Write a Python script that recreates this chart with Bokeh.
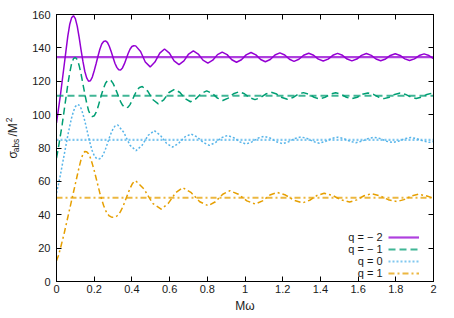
import math
from bokeh.plotting import figure
from bokeh.layouts import row
from bokeh.models import Range1d, LinearAxis, FixedTicker, Label, Legend, LegendItem
from bokeh.core.properties import value
from bokeh.embed import file_html
from bokeh.resources import INLINE

FONT = "Liberation Sans"

# ---- data ----
series_names = ["q = \u2212 2", "q = \u2212 1", "q = 0", "q = 1"]
series_colors = ["#9400d3", "#009e73", "#56b4e9", "#e69f00"]
asymptotes = [134.4, 111.3, 84.9, 50.2]

q_m2 = [(0, 95), (0.01, 103), (0.02, 111), (0.03, 120), (0.04, 129), (0.05, 138), (0.06, 147), (0.07, 154),
        (0.08, 158), (0.09, 159.3), (0.10, 157.5), (0.11, 153), (0.12, 146.5), (0.13, 139), (0.14, 132),
        (0.15, 126), (0.16, 122), (0.17, 120), (0.18, 120.3), (0.19, 122.5), (0.20, 126.3), (0.21, 130.5),
        (0.22, 135), (0.23, 139.2), (0.24, 142.3), (0.25, 143.8), (0.26, 144.2), (0.27, 143.3), (0.28, 141),
        (0.29, 137.8), (0.30, 134.2), (0.31, 130.8), (0.32, 128.3), (0.33, 126.9), (0.34, 126.8), (0.35, 128),
        (0.36, 130.4), (0.37, 133.5), (0.38, 136.6), (0.39, 139.2), (0.40, 140.8), (0.41, 141.3),
        (0.42, 141.2), (0.446, 137.8), (0.471, 131.5), (0.497, 128.6), (0.522, 131.5), (0.548, 136.85),
        (0.573, 139.3), (0.599, 136.85), (0.624, 132.2), (0.65, 130.0), (0.676, 132.2), (0.701, 136.3),
        (0.726, 138.2), (0.752, 136.3), (0.777, 132.65), (0.803, 130.9), (0.829, 132.65), (0.854, 135.95),
        (0.879, 137.5), (0.905, 135.95), (0.93, 132.9), (0.955, 131.4), (0.981, 132.9), (1.006, 135.8),
        (1.032, 137.2), (1.058, 135.8), (1.083, 133.05), (1.108, 131.7), (1.134, 133.05), (1.159, 135.7),
        (1.185, 137.0), (1.211, 135.7), (1.236, 133.15), (1.26, 131.9), (1.286, 133.15), (1.311, 135.6),
        (1.338, 136.8), (1.364, 135.6), (1.389, 133.25), (1.415, 132.1), (1.441, 133.25), (1.466, 135.55),
        (1.491, 136.7), (1.517, 135.55), (1.542, 133.3), (1.567, 132.2), (1.593, 133.3), (1.618, 135.5),
        (1.644, 136.6), (1.67, 135.5), (1.695, 133.35), (1.72, 132.3), (1.746, 133.35), (1.771, 135.45),
        (1.797, 136.5), (1.823, 135.45), (1.848, 133.4), (1.873, 132.4), (1.899, 133.4), (1.924, 135.4),
        (1.95, 136.4), (1.976, 135.4), (2.0, 133.6)]

q_m1 = [(0, 74), (0.01, 80), (0.02, 87), (0.03, 94), (0.04, 102), (0.05, 110), (0.06, 118), (0.07, 125),
        (0.08, 130.5), (0.09, 133.5), (0.10, 134.3), (0.11, 133), (0.12, 129.5), (0.13, 124.5), (0.14, 118.5),
        (0.15, 112.5), (0.16, 107), (0.17, 102.5), (0.18, 99.8), (0.19, 98.8), (0.20, 99.3), (0.21, 101.3),
        (0.22, 104.5), (0.23, 108.5), (0.24, 112.5), (0.25, 116), (0.26, 118.8), (0.27, 120.3), (0.28, 120.8),
        (0.29, 120.3), (0.30, 118.7), (0.31, 116.3), (0.32, 113.5), (0.33, 110.5), (0.34, 107.8),
        (0.35, 105.7), (0.36, 104.4), (0.37, 104.0), (0.38, 104.5), (0.39, 106), (0.40, 108.2), (0.41, 110.7),
        (0.42, 113.1), (0.43, 115), (0.44, 116.3),
        (0.455, 116.8), (0.484, 114.05), (0.512, 108.9), (0.54, 106.5), (0.569, 108.9), (0.597, 113.25),
        (0.626, 115.2), (0.655, 113.25), (0.683, 109.5), (0.711, 107.7), (0.74, 109.5), (0.768, 112.75),
        (0.797, 114.2), (0.826, 112.75), (0.854, 109.9), (0.882, 108.5), (0.911, 109.9), (0.939, 112.5),
        (0.968, 113.7), (0.997, 112.5), (1.025, 110.15), (1.053, 109.0), (1.082, 110.15), (1.11, 112.35),
        (1.139, 113.4), (1.168, 112.35), (1.196, 110.25), (1.225, 109.2), (1.254, 110.25), (1.282, 112.25),
        (1.31, 113.2), (1.339, 112.25), (1.367, 110.35), (1.395, 109.4), (1.424, 110.35), (1.452, 112.2),
        (1.481, 113.1), (1.51, 112.2), (1.538, 110.4), (1.566, 109.5), (1.595, 110.4), (1.623, 112.15),
        (1.652, 113.0), (1.681, 112.15), (1.709, 110.45), (1.737, 109.6), (1.766, 110.45), (1.794, 112.1),
        (1.823, 112.9), (1.852, 112.1), (1.88, 110.5), (1.908, 109.7), (1.937, 110.5), (1.965, 112.1),
        (1.994, 112.9), (2.0, 112.85)]

q_0 = [(0, 53), (0.01, 58), (0.02, 63.5), (0.03, 69.5), (0.04, 75.5), (0.05, 81.5), (0.06, 87.5), (0.07, 93),
       (0.08, 98), (0.09, 102), (0.10, 104.8), (0.11, 106), (0.12, 105.7), (0.13, 103.8), (0.14, 100.5),
       (0.15, 96.3), (0.16, 91.5), (0.17, 86.5), (0.18, 82), (0.19, 78.2), (0.20, 75.5), (0.21, 74),
       (0.22, 73.4), (0.23, 73.6), (0.24, 74.6), (0.25, 76.6), (0.26, 79.4), (0.27, 82.6), (0.28, 86),
       (0.29, 89), (0.30, 91.5), (0.31, 93.1),
       (0.325, 93.8), (0.357, 89.35), (0.39, 81.65), (0.422, 78.4), (0.454, 81.65), (0.487, 87.65),
       (0.519, 90.4), (0.551, 87.65), (0.584, 82.75), (0.616, 80.6), (0.648, 82.75), (0.681, 86.65),
       (0.714, 88.4), (0.746, 86.65), (0.779, 83.25), (0.811, 81.6), (0.843, 83.25), (0.876, 86.2),
       (0.908, 87.5), (0.94, 86.2), (0.973, 83.65), (1.005, 82.4), (1.037, 83.65), (1.07, 85.95),
       (1.102, 87.0), (1.134, 85.95), (1.167, 83.75), (1.2, 82.6), (1.232, 83.75), (1.265, 85.75),
       (1.297, 86.6), (1.329, 85.75), (1.362, 83.9), (1.394, 82.9), (1.426, 83.9), (1.459, 85.7),
       (1.491, 86.5), (1.523, 85.7), (1.556, 84.05), (1.588, 83.2), (1.62, 84.05), (1.653, 85.65),
       (1.685, 86.4), (1.717, 85.65), (1.75, 84.1), (1.783, 83.3), (1.815, 84.1), (1.848, 85.6),
       (1.88, 86.3), (1.912, 85.6), (1.945, 84.15), (1.977, 83.4), (2.0, 83.8)]

q_1 = [(0, 12.4), (0.01, 15.5), (0.02, 19.5), (0.03, 24), (0.04, 28.5), (0.05, 33.5), (0.06, 38.5),
       (0.07, 43.5), (0.08, 48.5), (0.09, 53.5), (0.10, 58.5), (0.11, 63.5), (0.12, 68.5), (0.13, 73),
       (0.14, 76.3), (0.15, 77.9), (0.16, 77.8), (0.17, 76.5), (0.18, 74), (0.19, 70.5), (0.20, 66.5),
       (0.21, 62), (0.22, 57.5), (0.23, 53), (0.24, 49), (0.25, 45.5), (0.26, 42.7), (0.27, 40.6),
       (0.28, 39.3), (0.29, 38.7), (0.30, 38.5), (0.31, 38.6), (0.32, 39.2), (0.33, 40.3), (0.34, 42),
       (0.35, 44.3), (0.36, 47), (0.37, 50), (0.38, 53), (0.39, 55.8), (0.40, 58.1), (0.41, 59.7),
       (0.42, 60.4), (0.465, 55.3), (0.51, 46.8), (0.555, 43.4), (0.593, 46.8), (0.632, 53.2), (0.67, 56.2),
       (0.715, 53.2), (0.76, 47.8), (0.805, 45.4), (0.843, 47.8), (0.882, 52.3), (0.92, 54.4),
       (0.965, 52.3), (1.01, 48.3), (1.055, 46.4), (1.093, 48.3), (1.132, 51.8), (1.17, 53.4),
       (1.215, 51.8), (1.26, 48.65), (1.305, 47.1), (1.343, 48.65), (1.382, 51.55), (1.42, 52.9),
       (1.465, 51.55), (1.51, 48.9), (1.555, 47.6), (1.593, 48.9), (1.632, 51.4), (1.67, 52.6),
       (1.715, 51.4), (1.76, 49.05), (1.805, 47.9), (1.843, 49.05), (1.882, 51.25), (1.92, 52.3),
       (1.965, 51.25), (2.0, 49.9)]

x_ticks = [0, 0.2, 0.4, 0.6, 0.8, 1, 1.2, 1.4, 1.6, 1.8, 2]
x_tick_labels = ["0", "0.2", "0.4", "0.6", "0.8", "1", "1.2", "1.4", "1.6", "1.8", "2"]
y_ticks = [0, 20, 40, 60, 80, 100, 120, 140, 160]

LEFT_W = 24

# ---- main figure ----
p = figure(width=422, height=318, output_backend="svg", toolbar_location=None,
           x_range=Range1d(0, 2), y_range=Range1d(0, 160),
           min_border_left=56 - LEFT_W, min_border_right=13, min_border_top=14, min_border_bottom=37)
p.xgrid.visible = False
p.ygrid.visible = False
p.outline_line_color = "black"
p.outline_line_width = 1
p.background_fill_color = "white"
p.border_fill_color = "white"

def style_axis(ax, labels=True):
    ax.major_tick_in = 5
    ax.major_tick_out = 0
    ax.minor_tick_line_color = None
    ax.axis_line_color = "black"
    ax.major_tick_line_color = "black"
    ax.major_label_text_font = FONT
    if labels:
        ax.major_label_text_font_size = "11px"
        ax.major_label_text_color = "#1a1a1a"
    else:
        ax.major_label_text_font_size = "1px"
        ax.major_label_text_color = None
        ax.major_label_standoff = 0

p.xaxis.ticker = FixedTicker(ticks=x_ticks)
p.xaxis.major_label_overrides = dict(zip(x_ticks, x_tick_labels))
p.xaxis.major_label_standoff = 3
p.xaxis.axis_label = "M\u03c9"
p.xaxis.axis_label_text_font = FONT
p.xaxis.axis_label_text_font_size = "12px"
p.xaxis.axis_label_text_font_style = "normal"
p.xaxis.axis_label_text_color = "#1a1a1a"
p.xaxis.axis_label_standoff = 3
p.yaxis.ticker = FixedTicker(ticks=y_ticks)
p.yaxis.major_label_standoff = 6
style_axis(p.xaxis[0])
style_axis(p.yaxis[0])

top_ax = LinearAxis(ticker=FixedTicker(ticks=x_ticks))
right_ax = LinearAxis(ticker=FixedTicker(ticks=y_ticks))
style_axis(top_ax, labels=False)
style_axis(right_ax, labels=False)
p.add_layout(top_ax, "above")
p.add_layout(right_ax, "right")

dashes = ["solid", "7 4", "2 2", "6 3 2 3"]
curves = [q_m2, q_m1, q_0, q_1]
legend_items = []
for data, name, color, dash, level in zip(curves, series_names, series_colors, dashes, asymptotes):
    xs = [d[0] for d in data]
    ys = [d[1] for d in data]
    p.line(xs, ys, line_color=color, line_width=1.5, line_dash=dash)
    r_h = p.line([xs[0], xs[-1]], [level, level], line_color=color, line_width=2.2,
                 line_alpha=0.75, line_dash=dash)
    legend_items.append(LegendItem(label=value(""), renderers=[r_h]))

legend = Legend(items=legend_items, location=(332, 2.5), orientation="vertical",
                glyph_width=31, glyph_height=12, label_height=12, label_width=0,
                label_standoff=0, spacing=0, padding=0, margin=0,
                border_line_color=None, background_fill_alpha=0,
                label_text_font_size="1px", label_text_color=None)
p.add_layout(legend)

legend_text_y = [44.5, 32.5, 20.5, 8.5]
for name, ty in zip(series_names, legend_text_y):
    p.add_layout(Label(x=326, y=ty, x_units="screen", y_units="screen", text=name,
                       text_align="right", text_baseline="middle", text_font=FONT,
                       text_font_size="11px", text_color="#1a1a1a"))

# ---- narrow figure on the left holding the y-axis title (sigma_abs / M^2) ----
q = figure(width=LEFT_W, height=318, output_backend="svg", toolbar_location=None,
           x_range=Range1d(0, LEFT_W), y_range=Range1d(318, 0),
           x_axis_location=None, y_axis_location=None, min_border=0)
q.grid.visible = False
q.outline_line_color = None
q.background_fill_color = "white"
q.border_fill_color = "white"

ylab_parts = [("\u03c3", 12, 167, "12px"), ("abs", 15.2, 156, "8.5px"),
              ("/M", 12, 137.5, "12px"), ("2", 8.3, 125.5, "8.5px")]
for txt, lx, ly, fs in ylab_parts:
    q.add_layout(Label(x=lx, y=ly, text=txt, angle=math.pi / 2, text_align="center",
                       text_baseline="middle", text_font=FONT, text_font_size=fs,
                       text_color="#1a1a1a"))

layout = row(q, p, spacing=0)
open("out.html", "w").write(file_html(layout, INLINE))
